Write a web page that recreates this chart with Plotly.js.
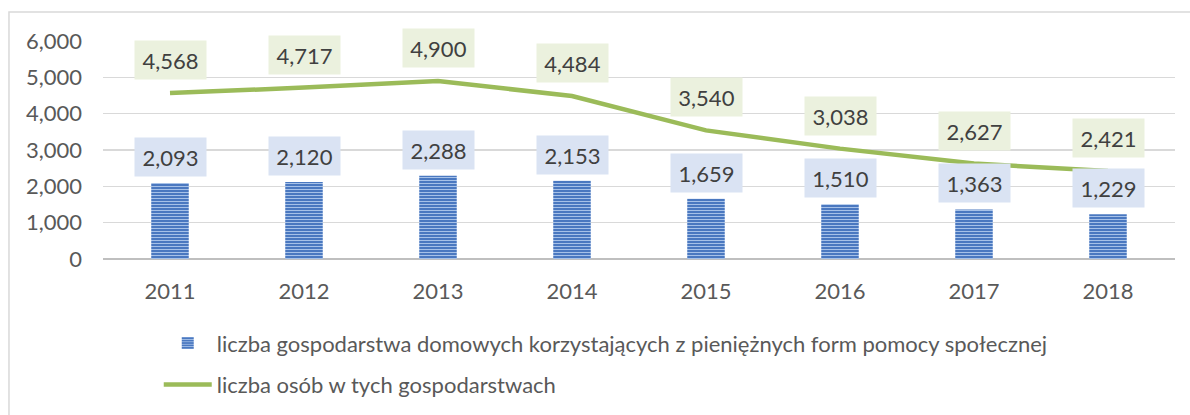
<!DOCTYPE html>
<html><head><meta charset="utf-8">
<script src="https://cdn.plot.ly/plotly-3.0.1.min.js"></script>
<style>html,body{margin:0;padding:0;background:#fff}#chart{width:1190px;height:415px}</style>
</head><body><div id="chart"></div>
<script>
const years = ['2011','2012','2013','2014','2015','2016','2017','2018'];
const households = [2093, 2120, 2288, 2153, 1659, 1510, 1363, 1229];
const persons = [4568, 4717, 4900, 4484, 3540, 3038, 2627, 2421];
const seriesNames = ['liczba gospodarstwa domowych korzystających z pieniężnych form pomocy społecznej', 'liczba osób w tych gospodarstwach'];
const yTicks = [0, 1000, 2000, 3000, 4000, 5000, 6000];

const FONT = 'Lato, "Open Sans", sans-serif';
const FS = 22;
const fmt = v => v.toLocaleString('en-US');

const traces = [
  {type:'bar', x:years, y:households, name:seriesNames[0], width:0.28,
   legendgroup:'a',
   marker:{color:'#4f81c7', line:{width:0},
     pattern:{shape:'-', fgcolor:'#a6c1e8', bgcolor:'#4a78c0', size:3, solidity:0.35, fillmode:'replace'}},
   hoverinfo:'skip'},
  {type:'scatter', mode:'lines', x:years, y:persons, name:seriesNames[1],
   legendgroup:'b',
   line:{color:'#9bbb59', width:4.5}, hoverinfo:'skip'}
];

const annotations = [];
years.forEach((yr,i)=>{
  annotations.push({x:i, y:households[i], xref:'x', yref:'y', text:fmt(households[i]),
    showarrow:false, yanchor:'middle', yshift:26, bgcolor:'#dae3f3', borderpad:6,
    width:59, height:26, font:{family:FONT, size:FS, color:'#404040'}});
  annotations.push({x:i, y:persons[i], xref:'x', yref:'y', text:fmt(persons[i]),
    showarrow:false, yanchor:'middle', yshift:33, bgcolor:'#ebf1de', borderpad:6,
    width:59, height:26, font:{family:FONT, size:FS, color:'#404040'}});
});

const layout = {
  width:1190, height:415,
  margin:{l:103, r:15, t:41, b:156, autoexpand:false},
  paper_bgcolor:'#fff', plot_bgcolor:'#fff',
  font:{family:FONT, size:FS, color:'#595959'},
  showlegend:true,
  legend:{orientation:'v', x:0.052, y:-0.29, xanchor:'left', yanchor:'top',
    traceorder:'grouped', tracegroupgap:10, itemwidth:48,
    font:{family:FONT, size:FS, color:'#595959'},
    bgcolor:'rgba(0,0,0,0)'},
  xaxis:{type:'category', range:[-0.5, 7.5], showgrid:false, showline:false, ticks:'', zeroline:false,
    tickfont:{family:FONT, size:FS, color:'#595959'}, ticklabelstandoff:17, automargin:false},
  yaxis:{range:[0,6000], tickvals:yTicks, ticktext:yTicks.map(fmt),
    showgrid:true, gridcolor:'#d9d9d9', gridwidth:1.3, zeroline:true, zerolinecolor:'#bfbfbf', zerolinewidth:2.5,
    ticks:'', showline:false, ticklabelstandoff:20, automargin:false,
    tickfont:{family:FONT, size:FS, color:'#595959'}},
  annotations:annotations,
  shapes:[{type:'rect', xref:'paper', yref:'paper', x0:-0.0877, x1:1.2, y0:-0.9, y1:1.133,
    line:{color:'#d9d9d9', width:1.5}, fillcolor:'rgba(0,0,0,0)', layer:'below'}]
};

Plotly.newPlot('chart', traces, layout, {staticPlot:true, displayModeBar:false});
</script>
</body></html>
